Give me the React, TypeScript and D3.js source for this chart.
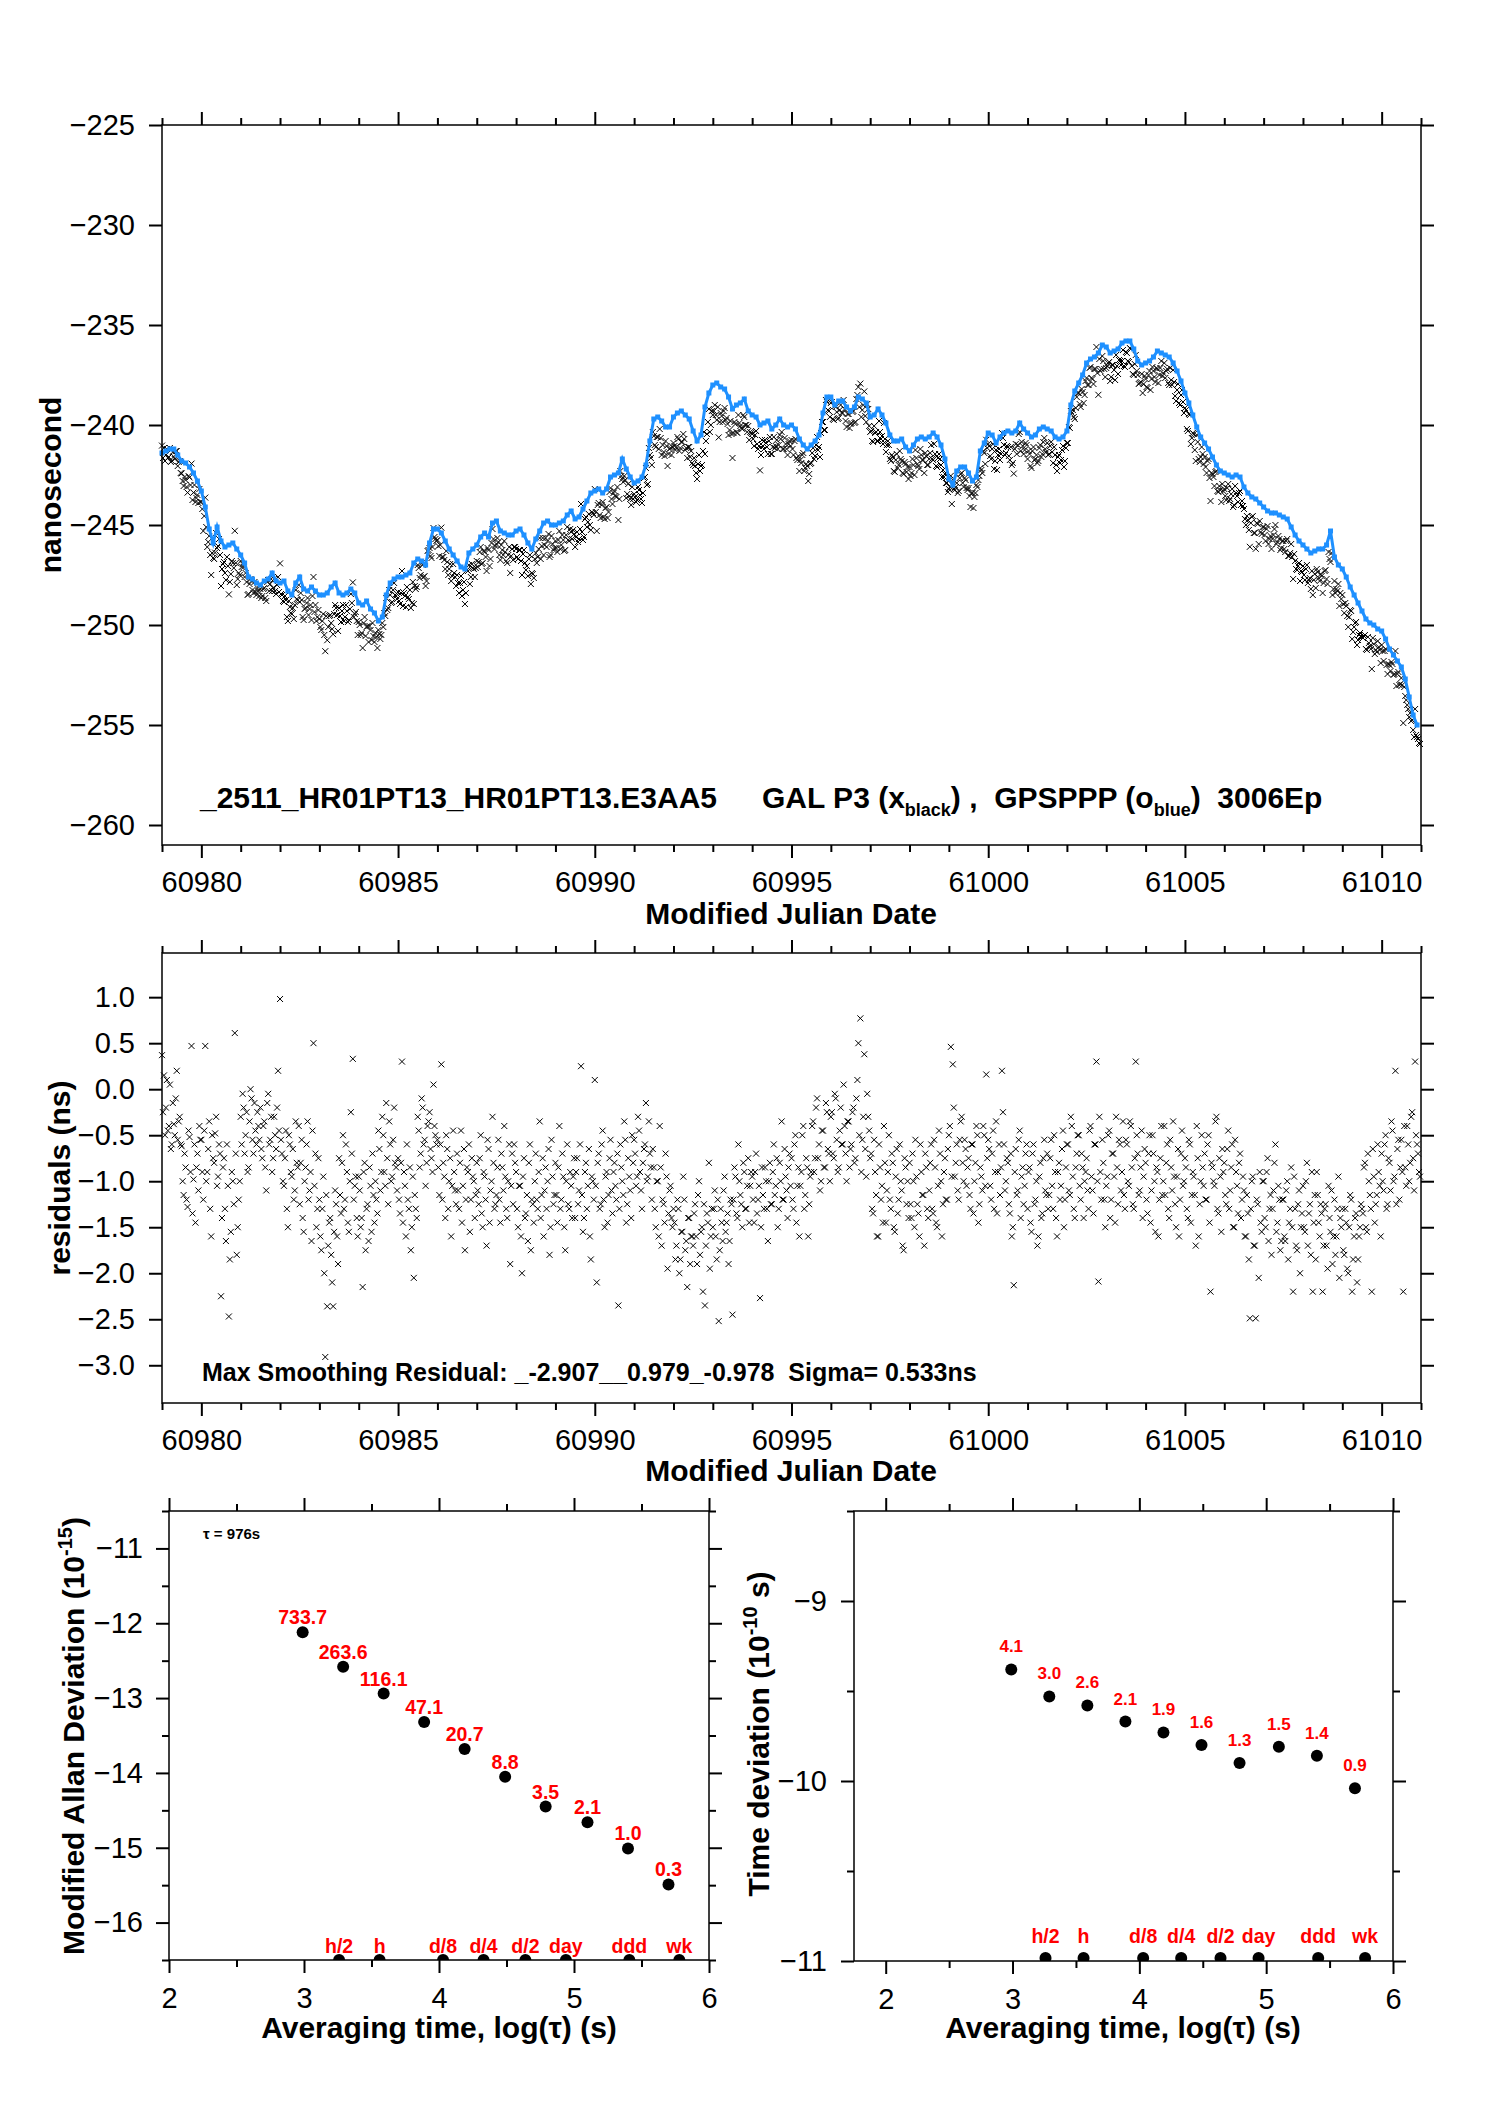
import * as d3 from 'd3'
import { useEffect, useRef } from 'react'

const W = 1488
const H = 2105
const FONT = '"Liberation Sans", Arial, Helvetica, sans-serif'
const RED = '#ff0000'
const BLUE = '#1e90ff'

// sampling of the clock series (MJD)
const mjdStart = 60979.0
const blueStep = 0.1
const residStep = 0.05
const residOffset = 0.025

// GPSPPP (blue) offsets, ns, one row per day from MJD 60979
const blueNs = [
  -241.4, -241.3, -241.2, -241.2, -241.5, -241.8, -241.9, -242.1, -242.4, -242.8,
  -243.3, -244.1, -245.2, -245.9, -245.1, -245.8, -246.1, -246.0, -245.9, -246.2,
  -246.5, -246.9, -247.6, -247.7, -247.9, -248.0, -247.8, -247.7, -247.4, -247.8,
  -247.9, -247.8, -248.3, -248.5, -247.9, -247.6, -248.2, -248.3, -248.1, -248.3,
  -248.5, -248.5, -248.4, -248.1, -247.9, -248.4, -248.5, -248.4, -248.2, -248.4,
  -248.9, -249.0, -248.8, -249.2, -249.4, -249.8, -249.6, -248.5, -247.9, -247.7,
  -247.6, -247.6, -247.5, -247.4, -246.9, -246.7, -246.8, -247.0, -245.9, -245.2,
  -245.2, -245.4, -245.8, -246.2, -246.5, -246.8, -247.1, -247.2, -246.4, -246.2,
  -246.0, -245.6, -245.4, -245.6, -244.9, -244.8, -245.3, -245.4, -245.5, -245.5,
  -245.3, -245.2, -245.5, -245.9, -246.2, -245.7, -245.3, -244.9, -244.8, -245.0,
  -245.0, -244.9, -244.8, -244.5, -244.3, -244.7, -244.6, -244.2, -243.8, -243.4,
  -243.3, -243.2, -243.4, -243.2, -242.6, -242.5, -242.4, -241.7, -242.2, -242.6,
  -242.9, -242.8, -242.6, -242.0, -240.8, -239.7, -239.6, -239.8, -240.1, -240.1,
  -239.6, -239.4, -239.3, -239.5, -239.7, -240.3, -240.8, -240.5, -239.1, -238.4,
  -238.0, -237.9, -238.1, -238.2, -238.6, -239.2, -239.0, -238.9, -238.7, -239.3,
  -239.5, -239.6, -240.0, -239.9, -239.8, -240.2, -240.0, -239.7, -240.0, -240.1,
  -240.0, -240.2, -240.7, -241.0, -241.2, -241.0, -240.8, -240.5, -239.4, -238.6,
  -238.6, -239.0, -238.8, -238.8, -239.1, -239.3, -239.1, -238.6, -238.7, -238.9,
  -239.6, -239.5, -239.2, -239.5, -239.9, -240.5, -240.8, -240.8, -240.7, -241.1,
  -241.3, -241.0, -240.7, -240.6, -240.7, -240.6, -240.4, -240.6, -241.0, -241.7,
  -242.7, -243.0, -242.3, -242.1, -242.1, -242.4, -242.8, -242.6, -241.3, -240.9,
  -240.4, -240.5, -240.9, -240.6, -240.4, -240.3, -240.4, -240.3, -239.9, -240.2,
  -240.4, -240.6, -240.5, -240.2, -240.1, -240.2, -240.3, -240.6, -240.7, -240.6,
  -240.3, -239.0, -238.3, -237.9, -237.5, -236.9, -236.7, -236.6, -236.4, -236.0,
  -236.1, -236.4, -236.3, -236.2, -235.9, -235.8, -235.8, -236.2, -236.8, -237.0,
  -236.9, -236.8, -236.6, -236.3, -236.4, -236.5, -236.6, -236.9, -237.3, -237.8,
  -238.4, -238.9, -239.5, -240.1, -240.6, -240.9, -241.2, -241.6, -242.0, -242.3,
  -242.4, -242.5, -242.6, -242.5, -242.6, -243.1, -243.4, -243.6, -243.7, -243.9,
  -244.1, -244.3, -244.4, -244.4, -244.5, -244.6, -244.7, -245.1, -245.5, -245.8,
  -246.0, -246.2, -246.4, -246.3, -246.2, -246.2, -246.0, -245.3, -246.6, -247.0,
  -247.2, -247.6, -248.1, -248.5, -248.9, -249.3, -249.7, -249.9, -250.0, -250.2,
  -250.3, -250.7, -251.2, -251.5, -251.8, -252.1, -252.7, -253.6, -254.5, -255.0,
]

// GAL P3 smoothing residuals, ns, epochs MJD 60979.000 + 0.05 i (one row per day)
const residNs = [
  0.37, 0.15, -0.2, -0.45, 0.05, -0.6, -0.38, -0.1, -0.55, -0.3, -0.62, -1.15, -0.85, -1.28, -0.52, 0.47, -0.98, -1.45, -0.7, -0.4,
  -0.55, -1.2, 0.47, -0.9, -0.35, -1.6, -0.75, -0.48, -1.05, -0.6, -2.25, -0.85, -1.3, -0.6, -2.47, -1.55, -1.0, 0.61, -1.8, -1.2,
  -0.3, -0.05, -0.7, -0.25, -0.85, 0.0, -0.55, -0.15, -0.6, -0.4, -0.2, -0.75, -0.35, -1.1, -0.05, -0.55, -0.9, -0.3, -0.65, 0.2,
  0.98, -0.7, -1.05, -0.45, -1.5, -0.6, -0.95, -1.2, -0.35, -0.85, -1.25, -0.55, -1.55, -0.85, -0.35, -1.1, -1.65, 0.5, -0.7, -1.3,
  -1.2, -1.75, -0.95, -2.91, -2.36, -1.45, -1.8, -2.36, -1.1, -1.6, -0.75, -1.35, -0.5, -1.2, -0.9, -1.55, -0.25, 0.33, -1.05, -1.4,
  -0.95, -1.5, -2.15, -0.8, -1.3, -1.65, -1.05, -0.7, -1.45, -1.2, -0.45, -1.1, -0.3, -0.9, -0.15, -1.25, -0.6, -0.95, -0.2, -0.85,
  -0.75, -1.35, 0.3, -0.9, -1.6, -1.2, -0.85, -1.5, -2.05, -1.3, -0.3, -0.85, -0.1, -0.6, -1.05, -0.4, -0.25, -0.75, 0.05, -0.5,
  -0.55, -1.15, 0.27, -0.8, -1.4, -0.65, -1.0, -1.6, -0.45, -1.1, -0.7, -1.3, -0.45, -1.05, -1.75, -0.85, -0.6, -1.2, -0.95, -1.4,
  -0.8, -1.25, -0.5, -1.5, -0.95, -1.7, -0.65, -1.1, -0.3, -1.3, -1.15, -0.55, -1.45, -0.85, -0.4, -1.3, -1.0, -1.9, -0.7, -0.6,
  -0.9, -1.5, -1.05, -2.0, -0.75, -1.35, -1.65, -0.6, -1.2, -1.45, -0.7, -1.3, -0.35, -1.15, -1.6, -0.85, -1.0, -1.8, -0.55, -1.25,
  -0.8, -1.45, -0.4, -1.2, -0.95, -1.75, -0.6, -1.3, -1.05, -0.95, -1.4, -0.75, -1.1, 0.25, -1.55, -0.9, -1.3, -0.65, -1.85, -1.0,
  0.1, -2.1, -0.7, -1.25, -0.45, -1.5, -0.9, -1.15, -0.55, -1.35, -0.8, -1.2, -2.35, -0.6, -1.0, -0.35, -1.45, -0.75, -1.1, -0.5,
  -0.55, -1.05, -0.3, -0.9, -1.3, -0.65, -0.15, -0.95, -0.7, -1.2, -0.85, -1.5, -1.0, -0.4, -1.7, -1.25, -0.7, -1.95, -1.1, -1.4,
  -1.3, -1.85, -1.2, -2.0, -1.55, -0.95, -1.75, -2.15, -1.4, -1.6, -1.7, -1.25, -1.9, -1.0, -1.55, -2.2, -2.35, -1.35, -0.8, -1.6,
  -1.5, -1.1, -1.85, -2.52, -1.3, -1.65, -0.95, -1.45, -1.9, -1.2, -2.45, -0.85, -1.35, -0.6, -1.15, -1.5, -0.9, -1.3, -0.75, -1.05,
  -0.95, -1.45, -0.7, -1.2, -2.27, -0.85, -1.3, -1.0, -1.65, -0.8, -1.25, -0.6, -1.05, -1.5, -0.8, -0.35, -1.2, -0.95, -1.4, -0.7,
  -0.75, -1.3, -0.5, -1.05, -1.6, -0.9, -0.4, -1.15, -0.85, -1.25, -0.9, -0.35, -0.75, -0.1, -0.6, -1.0, -0.45, -0.85, -0.25, -0.7,
  -0.3, -0.7, -0.05, -0.55, -0.85, -0.2, -0.6, -0.4, -1.0, -0.35, -0.65, -0.25, -0.8, -0.1, 0.5, 0.77, -0.55, 0.38, -0.95, -0.3,
  -0.75, -1.3, -0.55, -1.15, -1.6, -0.85, -1.05, -0.4, -1.45, -0.9, -1.2, -0.7, -1.5, -0.95, -1.35, -0.6, -1.1, -1.75, -0.85, -1.0,
  -0.8, -1.4, -1.0, -0.55, -1.25, -1.6, -0.9, -1.15, -0.7, -1.3, -1.1, -0.6, -1.35, -0.85, -1.5, -0.45, -1.0, -1.25, -0.75, -1.2,
  -0.5, 0.46, 0.27, -0.95, -0.6, -1.2, -0.35, -0.8, -0.55, -1.05, -0.75, -1.3, -0.6, -1.0, -0.4, -1.45, -0.85, -1.1, -0.5, 0.16,
  -0.55, -1.05, -0.7, -1.3, -0.35, -0.9, -1.15, 0.2, -0.6, -1.0, -0.8, -1.35, -1.6, -2.13, -0.65, -1.1, -0.45, -0.95, -1.25, -0.7,
  -1.3, -0.85, -1.55, -0.6, -1.2, -1.7, -0.95, -1.4, -0.75, -1.1, -0.7, -1.15, -0.55, -1.3, -0.9, -1.6, -0.8, -1.05, -0.45, -1.2,
  -0.6, -1.1, -0.3, -0.95, -1.4, -0.7, -0.5, -1.2, -0.85, -1.0, -0.75, -1.3, -0.4, -1.1, -0.6, 0.3, -2.09, -0.9, -0.55, -1.2,
  -1.05, -0.5, -1.4, -0.7, -0.95, -0.3, -1.25, -0.6, -0.9, -1.15, -0.55, -1.0, -0.35, -0.85, -1.3, 0.3, -0.7, -1.1, -0.45, -0.95,
  -0.8, -1.35, -0.5, -1.1, -0.7, -1.55, -0.9, -1.2, -0.4, -1.0, -1.15, -0.6, -1.4, -0.85, -0.35, -1.25, -0.95, -1.6, -0.7, -1.05,
  -0.75, -1.3, -0.55, -1.45, -0.9, -1.15, -0.4, -1.6, -1.0, -0.85, -0.7, -1.2, -0.5, -2.2, -0.85, -1.05, -0.3, -1.35, -0.95, -0.65,
  -0.8, -1.25, -0.45, -1.1, -0.6, -1.5, -0.9, -1.35, -0.7, -1.2, -1.1, -1.6, -1.35, -2.49, -1.0, -1.7, -2.49, -1.25, -0.9, -1.55,
  -1.0, -1.5, -0.75, -1.3, -1.8, -1.1, -0.6, -1.45, -1.2, -1.65, -1.2, -1.65, -1.0, -1.45, -0.85, -2.2, -1.3, -1.75, -1.1, -1.5,
  -1.05, -1.55, -0.8, -1.35, -1.8, -2.2, -1.15, -0.9, -1.45, -1.25, -2.2, -1.3, -1.7, -1.05, -1.55, -1.9, -1.2, -1.6, -0.95, -1.4,
  -1.3, -1.8, -1.45, -2.0, -1.15, -2.2, -1.6, -1.35, -1.85, -1.5, -1.3, -0.85, -1.5, -0.7, -1.15, -2.2, -0.95, -1.25, -0.6, -1.05,
  -0.7, -1.1, -0.5, -1.25, -0.8, -0.35, -1.0, 0.2, -0.65, -1.2, -0.55, -2.2, -0.85, -0.4, -1.0, -0.3, -0.75, 0.3, -0.6, -0.9,
]

// GAL P3 smoothing residuals, ns, epochs MJD 60979.025 + 0.05 i (one row per day)
const residNsB = [
  -0.25, -0.5, 0.1, -0.4, -0.65, -0.15, -0.5, 0.2, -0.35, -0.6, -1.0, -0.7, -1.2, -0.45, -0.9, -1.35, -0.6, -0.85, -1.1, -0.55,
  -0.9, -0.45, -1.0, -0.65, -1.3, -0.5, -0.8, -0.3, -0.95, -0.7, -1.4, -0.75, -1.65, -1.05, -1.85, -0.9, -1.25, -0.7, -1.5, -1.0,
  -0.6, -0.2, -0.5, -0.9, -0.35, -0.1, -0.7, -0.45, -0.25, -0.55, -0.65, -0.4, -0.85, -0.15, -0.6, -0.3, -0.75, -0.5, -0.2, -0.45,
  -0.55, -1.0, -0.75, -1.3, -0.5, -0.9, -0.65, -1.1, -0.8, -0.4, -0.8, -1.4, -1.0, -0.6, -1.2, -0.9, -0.45, -1.05, -1.5, -0.75,
  -1.6, -1.3, -2.0, -1.15, -1.7, -1.4, -2.1, -1.55, -1.25, -1.9, -1.15, -0.8, -1.3, -0.6, -1.45, -1.0, -0.7, -1.2, -0.95, -1.6,
  -1.1, -1.4, -0.9, -1.75, -1.25, -0.85, -1.55, -1.15, -1.0, -1.35, -0.65, -0.9, -0.5, -1.05, -0.75, -0.35, -1.0, -0.55, -0.8, -1.1,
  -1.2, -0.8, -1.45, -1.05, -0.6, -1.3, -1.75, -0.95, -1.15, -1.4, -0.45, -0.7, -0.2, -0.55, -0.8, -0.35, -0.65, -0.9, -0.4, -0.6,
  -0.85, -0.6, -1.2, -0.95, -0.5, -1.3, -0.75, -1.05, -0.9, -1.25, -1.1, -0.8, -1.45, -0.65, -1.2, -0.9, -1.55, -0.75, -1.0, -1.15,
  -1.1, -0.75, -1.35, -0.9, -1.2, -0.55, -1.45, -1.0, -0.8, -1.25, -0.85, -1.2, -0.7, -1.1, -0.95, -1.4, -0.6, -1.05, -1.25, -0.8,
  -1.3, -1.05, -1.6, -0.95, -1.4, -1.15, -0.8, -1.75, -1.25, -1.0, -1.2, -0.9, -1.4, -0.75, -1.1, -1.3, -0.65, -1.5, -0.95, -1.15,
  -1.15, -0.85, -1.3, -0.7, -1.5, -1.0, -1.25, -0.9, -1.4, -0.75, -0.9, -1.25, -0.6, -1.15, -1.4, -0.8, -1.05, -1.6, -0.95, -1.2,
  -1.05, -0.8, -1.3, -0.6, -1.2, -0.95, -1.45, -0.75, -1.1, -0.9, -1.05, -0.7, -1.3, -0.85, -1.15, -0.55, -1.25, -0.95, -1.4, -0.8,
  -0.7, -0.95, -0.45, -1.1, -0.8, -0.6, -1.0, -0.35, -0.85, -0.65, -1.3, -1.0, -1.6, -0.85, -1.2, -1.45, -0.95, -1.35, -1.05, -1.5,
  -1.45, -1.7, -1.3, -1.85, -1.55, -1.2, -1.65, -1.4, -1.9, -1.6, -1.35, -1.6, -1.15, -1.8, -1.5, -1.25, -1.7, -1.45, -1.95, -1.3,
  -1.3, -1.6, -1.2, -1.75, -1.45, -1.1, -1.55, -1.35, -1.65, -1.25, -1.2, -0.95, -1.4, -1.0, -1.25, -0.8, -1.3, -1.05, -1.45, -0.9,
  -1.2, -0.9, -1.35, -1.05, -1.5, -1.15, -0.85, -1.3, -1.0, -1.25, -0.9, -1.15, -0.75, -1.3, -1.0, -1.2, -0.65, -1.1, -0.85, -1.05,
  -1.2, -0.6, -1.45, -0.85, -1.05, -0.5, -1.3, -0.75, -1.6, -0.95, -0.4, -0.9, -0.2, -0.75, -1.1, -0.45, -0.85, -0.15, -0.65, -1.0,
  -0.25, -0.75, -0.1, -0.9, -0.45, -0.6, 0.05, -0.7, -0.35, -0.85, -0.6, -0.2, -0.75, 0.1, -0.5, -0.9, -0.3, -0.65, -0.05, -0.45,
  -0.7, -1.35, -0.9, -1.6, -0.6, -1.2, -1.45, -0.8, -1.1, -0.5, -1.3, -0.8, -1.55, -0.65, -1.2, -1.0, -1.7, -0.75, -1.25, -1.4,
  -1.25, -0.7, -1.5, -0.95, -1.35, -0.6, -1.15, -1.7, -0.85, -1.4, -0.8, -1.3, -0.55, -1.45, -1.05, -0.7, -1.6, -0.9, -1.2, -0.65,
  -0.4, -0.95, -0.2, -0.8, -1.1, -0.55, -0.3, -1.0, -0.65, -0.85, -1.15, -0.6, -1.35, -0.8, -0.5, -1.25, -0.95, -0.4, -1.05, -0.75,
  -0.65, -1.2, -0.45, -0.9, -1.35, -0.6, -0.85, -0.25, -1.1, -0.75, -1.25, -0.7, -1.5, -0.9, -1.15, -0.55, -1.4, -0.85, -1.05, -0.6,
  -0.9, -1.45, -0.7, -1.25, -1.0, -1.6, -0.8, -1.35, -0.55, -1.15, -1.3, -0.75, -1.05, -0.5, -1.4, -0.9, -1.2, -0.65, -1.5, -0.85,
  -0.6, -1.15, -0.4, -1.3, -0.85, -0.5, -1.05, -0.7, -1.4, -0.9, -1.1, -0.45, -0.95, -1.35, -0.6, -1.0, -0.3, -1.2, -0.8, -1.5,
  -0.95, -0.45, -1.2, -0.7, -1.45, -0.85, -0.55, -1.1, -0.35, -1.3, -0.6, -1.05, -0.4, -1.25, -0.75, -0.5, -1.15, -0.85, -1.4, -0.65,
  -1.2, -0.7, -1.45, -0.5, -1.0, -0.85, -1.6, -0.75, -1.15, -0.4, -0.8, -1.3, -0.55, -1.1, -0.95, -1.5, -0.65, -1.2, -0.45, -1.0,
  -0.85, -1.4, -0.6, -1.15, -0.95, -1.7, -0.75, -1.25, -0.5, -1.05, -1.2, -0.6, -1.45, -0.8, -1.0, -0.35, -1.3, -0.75, -1.55, -0.9,
  -1.15, -0.65, -1.3, -0.85, -1.5, -0.55, -1.05, -0.8, -1.4, -0.95, -1.6, -1.15, -1.85, -1.3, -0.95, -1.7, -1.2, -2.05, -1.45, -1.0,
  -1.4, -0.9, -1.65, -1.15, -1.3, -0.8, -1.55, -1.05, -1.75, -1.2, -1.6, -1.1, -1.85, -1.3, -1.5, -0.95, -1.7, -1.25, -2.0, -1.35,
  -1.5, -1.0, -1.7, -1.25, -0.9, -1.45, -1.85, -1.15, -1.6, -1.35, -1.7, -1.25, -1.95, -1.4, -1.1, -1.6, -1.8, -1.3, -2.05, -1.5,
  -1.75, -1.3, -1.95, -1.5, -1.2, -1.85, -1.4, -2.1, -1.6, -1.25, -1.35, -0.8, -1.55, -1.0, -1.3, -0.65, -1.45, -1.15, -0.9, -1.6,
  -1.0, -0.6, -1.3, -0.75, -1.1, -0.45, -0.95, -1.25, -0.55, -0.85, -0.9, -0.4, -1.05, -0.6, -0.8, -0.25, -1.1, -0.5, -0.7, -0.95,
]

// stability plots
const logTau = [2.99, 3.29, 3.59, 3.89, 4.19, 4.49, 4.79, 5.1, 5.4, 5.7]
const mdevLog = [-12.12, -12.58, -12.94, -13.32, -13.68, -14.05, -14.45, -14.66, -15.01, -15.49]
const mdevLabels = ['733.7', '263.6', '116.1', '47.1', '20.7', '8.8', '3.5', '2.1', '1.0', '0.3']
const tdevLog = [-9.38, -9.53, -9.58, -9.67, -9.73, -9.8, -9.9, -9.81, -9.86, -10.04]
const tdevLabels = ['4.1', '3.0', '2.6', '2.1', '1.9', '1.6', '1.3', '1.5', '1.4', '0.9']
const markerNames = ['h/2', 'h', 'd/8', 'd/4', 'd/2', 'day', 'ddd', 'wk']
const markerLogTau = [3.26, 3.56, 4.03, 4.33, 4.64, 4.94, 5.41, 5.78]

// ticks
const mjdMajor = [60980, 60985, 60990, 60995, 61000, 61005, 61010]
const mjdMinor = d3.range(60979, 61012).filter(d => d % 5 !== 0)
const nsTicks = [-225, -230, -235, -240, -245, -250, -255, -260]
const residTicks = [1.0, 0.5, 0.0, -0.5, -1.0, -1.5, -2.0, -2.5, -3.0]
const mdevTicks = [-11, -12, -13, -14, -15, -16]
const mdevMinor = [-10.5, -11.5, -12.5, -13.5, -14.5, -15.5, -16.5]
const tdevTicks = [-9, -10, -11]
const tdevMinor = [-8.5, -9.5, -10.5]
const tauTicks = [2, 3, 4, 5, 6]
const tauMinor = [2.5, 3.5, 4.5, 5.5]

const X_PATH = 'M-3,-3L3,3M-3,3L3,-3'

type Sel = d3.Selection<SVGSVGElement, unknown, null, undefined>
type Lin = d3.ScaleLinear<number, number>

interface AxisCfg {
  xMajor: number[]
  xMinor: number[]
  yMajor: number[]
  yMinor: number[]
  xFmt: (d: number) => string
  yFmt: (d: number) => string
  xPad: number
  yPad: number
}

function drawAxes(svg: Sel, x: Lin, y: Lin, c: AxisCfg) {
  const [xl, xr] = x.range()
  const [yb, yt] = y.range()
  const blank = () => ''
  const tidy = (g: any) => {
    g.select('.domain').remove()
    g.selectAll('line').attr('stroke', '#000').attr('stroke-width', 2)
    g.selectAll('text')
      .attr('font-family', FONT)
      .attr('font-size', 29)
      .attr('fill', '#000')
  }
  const add = (axis: any, tx: number, ty: number) =>
    svg
      .append('g')
      .attr('transform', `translate(${tx},${ty})`)
      .call(axis)
      .call(tidy)

  add(d3.axisBottom(x).tickValues(c.xMajor).tickSize(13).tickPadding(c.xPad).tickFormat(c.xFmt as any), 0, yb)
  add(d3.axisBottom(x).tickValues(c.xMinor).tickSize(7).tickFormat(blank), 0, yb)
  add(d3.axisTop(x).tickValues(c.xMajor).tickSize(13).tickFormat(blank), 0, yt)
  add(d3.axisTop(x).tickValues(c.xMinor).tickSize(7).tickFormat(blank), 0, yt)
  add(d3.axisLeft(y).tickValues(c.yMajor).tickSize(13).tickPadding(c.yPad).tickFormat(c.yFmt as any), xl, 0)
  add(d3.axisLeft(y).tickValues(c.yMinor).tickSize(7).tickFormat(blank), xl, 0)
  add(d3.axisRight(y).tickValues(c.yMajor).tickSize(13).tickFormat(blank), xr, 0)
  add(d3.axisRight(y).tickValues(c.yMinor).tickSize(7).tickFormat(blank), xr, 0)

  svg
    .append('rect')
    .attr('x', xl)
    .attr('y', yt)
    .attr('width', xr - xl)
    .attr('height', yb - yt)
    .attr('fill', 'none')
    .attr('stroke', '#000')
    .attr('stroke-width', 1.5)
}

function title(svg: Sel, x: number, y: number, text: string, rotate = false) {
  return svg
    .append('text')
    .attr('transform', rotate ? `translate(${x},${y}) rotate(-90)` : `translate(${x},${y})`)
    .attr('text-anchor', 'middle')
    .attr('font-size', 30)
    .attr('font-weight', 'bold')
    .text(text)
}

export default function App() {
  const ref = useRef<SVGSVGElement>(null)

  useEffect(() => {
    if (!ref.current) return
    const svg = d3.select(ref.current) as Sel
    svg.selectAll('*').remove()
    svg.append('rect').attr('width', W).attr('height', H).attr('fill', '#fff')

    const blue = blueNs.map((v, i) => ({ t: mjdStart + i * blueStep, v }))
    const resid = [
      ...residNs.map((v, i) => ({ t: mjdStart + i * residStep, v })),
      ...residNsB.map((v, i) => ({ t: mjdStart + residOffset + i * residStep, v })),
    ]
    // GAL P3 points = GPSPPP track (nearest sample) + residual
    const nearestBlue = (t: number) =>
      blueNs[Math.min(blueNs.length - 1, Math.round((t - mjdStart) / blueStep))]
    const black = resid.map(d => ({ t: d.t, v: nearestBlue(d.t) + d.v }))

    // 1. Clock offsets
    const xT = d3.scaleLinear().domain([60979, 61011]).range([162, 1421])
    const yT = d3.scaleLinear().domain([-261, -225]).range([845, 125])

    svg
      .append('g')
      .selectAll('path')
      .data(black)
      .join('path')
      .attr('d', X_PATH)
      .attr('transform', d => `translate(${xT(d.t)},${yT(d.v)})`)
      .attr('fill', 'none')
      .attr('stroke', '#000')
      .attr('stroke-width', 1)

    const blueLine = d3
      .line<{ t: number; v: number }>()
      .x(d => xT(d.t))
      .y(d => yT(d.v))
    svg
      .append('path')
      .datum(blue)
      .attr('d', blueLine)
      .attr('fill', 'none')
      .attr('stroke', BLUE)
      .attr('stroke-width', 3)
    svg
      .append('g')
      .selectAll('rect')
      .data(blue)
      .join('rect')
      .attr('x', d => xT(d.t) - 2.5)
      .attr('y', d => yT(d.v) - 2.5)
      .attr('width', 5)
      .attr('height', 5)
      .attr('fill', BLUE)

    drawAxes(svg, xT, yT, {
      xMajor: mjdMajor,
      xMinor: mjdMinor,
      yMajor: nsTicks,
      yMinor: [],
      xFmt: d3.format('d'),
      yFmt: d3.format('d'),
      xPad: 13,
      yPad: 14,
    })
    title(svg, 61, 485, 'nanosecond', true)
    title(svg, 791, 924, 'Modified Julian Date')

    const legend = svg
      .append('text')
      .attr('x', 200)
      .attr('y', 808)
      .attr('font-size', 30)
      .attr('font-weight', 'bold')
      .style('white-space', 'pre')
    legend.append('tspan').text('_2511_HR01PT13_HR01PT13.E3AA5')
    legend.append('tspan').attr('x', 762).text('GAL P3 (x')
    legend.append('tspan').attr('font-size', 18).attr('dy', 8).text('black')
    legend.append('tspan').attr('dy', -8).text(') ,  GPSPPP (o')
    legend.append('tspan').attr('font-size', 18).attr('dy', 8).text('blue')
    legend.append('tspan').attr('dy', -8).text(')  3006Ep')

    // 2. Residuals
    const yR = d3.scaleLinear().domain([-3.41, 1.48]).range([1403, 953])
    svg
      .append('g')
      .selectAll('path')
      .data(resid)
      .join('path')
      .attr('d', X_PATH)
      .attr('transform', d => `translate(${xT(d.t)},${yR(d.v)})`)
      .attr('fill', 'none')
      .attr('stroke', '#000')
      .attr('stroke-width', 1)

    drawAxes(svg, xT, yR, {
      xMajor: mjdMajor,
      xMinor: mjdMinor,
      yMajor: residTicks,
      yMinor: [],
      xFmt: d3.format('d'),
      yFmt: d3.format('.1f'),
      xPad: 13,
      yPad: 14,
    })
    title(svg, 70, 1178, 'residuals (ns)', true)
    title(svg, 791, 1481, 'Modified Julian Date')
    svg
      .append('text')
      .attr('x', 202)
      .attr('y', 1381)
      .attr('font-size', 25)
      .attr('font-weight', 'bold')
      .style('white-space', 'pre')
      .text('Max Smoothing Residual: _-2.907__0.979_-0.978  Sigma= 0.533ns')

    // 3. Stability plots
    const stab = (
      x: Lin,
      y: Lin,
      vals: number[],
      labels: string[],
      id: string,
      labelSize: number,
      labelGap: number,
      markGap: number,
      markLift: number
    ) => {
      const [xl, xr] = x.range()
      const [yb, yt] = y.range()
      svg
        .append('clipPath')
        .attr('id', id)
        .append('rect')
        .attr('x', xl)
        .attr('y', yt)
        .attr('width', xr - xl)
        .attr('height', yb - yt)

      const pts = vals.map((v, i) => ({ t: logTau[i], v, label: labels[i] }))
      svg
        .append('g')
        .selectAll('circle')
        .data(pts)
        .join('circle')
        .attr('cx', d => x(d.t))
        .attr('cy', d => y(d.v))
        .attr('r', 6)
        .attr('fill', '#000')
      svg
        .append('g')
        .selectAll('text')
        .data(pts)
        .join('text')
        .attr('x', d => x(d.t))
        .attr('y', d => y(d.v) - labelGap)
        .attr('text-anchor', 'middle')
        .attr('font-size', labelSize)
        .attr('font-weight', 'bold')
        .attr('fill', RED)
        .text(d => d.label)

      const marks = markerNames.map((name, i) => ({ name, t: markerLogTau[i] }))
      const yMin = y.domain()[0]
      svg
        .append('g')
        .attr('clip-path', `url(#${id})`)
        .selectAll('circle')
        .data(marks)
        .join('circle')
        .attr('cx', d => x(d.t))
        .attr('cy', y(yMin) - markLift)
        .attr('r', 6)
        .attr('fill', '#000')
      svg
        .append('g')
        .selectAll('text')
        .data(marks)
        .join('text')
        .attr('x', d => x(d.t))
        .attr('y', y(yMin) - markGap)
        .attr('text-anchor', 'middle')
        .attr('font-size', 19.5)
        .attr('font-weight', 'bold')
        .attr('fill', RED)
        .text(d => d.name)
    }

    const xA = d3.scaleLinear().domain([2, 6]).range([169, 709])
    const yA = d3.scaleLinear().domain([-16.5, -10.5]).range([1960, 1511])
    stab(xA, yA, mdevLog, mdevLabels, 'clipA', 19.5, 8, 7, 0)
    drawAxes(svg, xA, yA, {
      xMajor: tauTicks,
      xMinor: tauMinor,
      yMajor: mdevTicks,
      yMinor: mdevMinor,
      xFmt: d3.format('d'),
      yFmt: d3.format('d'),
      xPad: 14,
      yPad: 13,
    })
    svg
      .append('text')
      .attr('x', 203)
      .attr('y', 1539)
      .attr('font-size', 15)
      .attr('font-weight', 'bold')
      .text('τ = 976s')
    const tA = title(svg, 84, 1736, 'Modified Allan Deviation (10', true)
    tA.append('tspan').attr('font-size', 20).attr('dy', -12).text('-15')
    tA.append('tspan').attr('dy', 12).text(')')
    title(svg, 439, 2038, 'Averaging time, log(τ) (s)')

    const xB = d3.scaleLinear().domain([1.75, 6]).range([854, 1393])
    const yB = d3.scaleLinear().domain([-11, -8.5]).range([1961, 1511])
    stab(xB, yB, tdevLog, tdevLabels, 'clipB', 17, 17, 18, 3)
    drawAxes(svg, xB, yB, {
      xMajor: tauTicks,
      xMinor: tauMinor,
      yMajor: tdevTicks,
      yMinor: tdevMinor,
      xFmt: d3.format('d'),
      yFmt: d3.format('d'),
      xPad: 14,
      yPad: 14,
    })
    const tB = title(svg, 769, 1734, 'Time deviation (10', true)
    tB.append('tspan').attr('font-size', 20).attr('dy', -12).text('-10')
    tB.append('tspan').attr('dy', 12).text(' s)')
    title(svg, 1123, 2038, 'Averaging time, log(τ) (s)')
  }, [])

  return (
    <svg
      ref={ref}
      width={W}
      height={H}
      fontFamily={FONT}
      style={{ position: 'absolute', left: 0, top: 0, background: '#fff' }}
    />
  )
}
